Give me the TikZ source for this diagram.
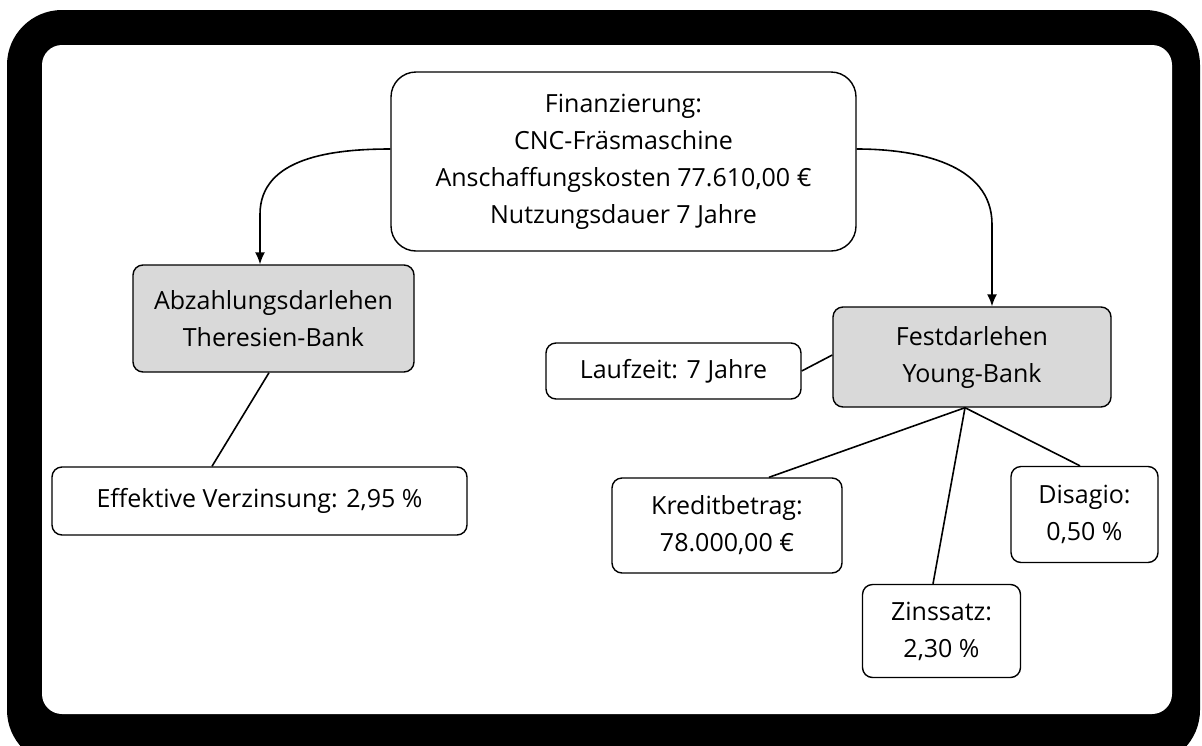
\documentclass[tikz,border=0pt]{standalone}
\usepackage{fontspec}
\setmainfont{Open Sans}
\usepackage{tikz}
\usetikzlibrary{arrows.meta}
\definecolor{box-gray}{RGB}{217,217,217}
\tikzstyle{bgframe}=[fill=black, rounded corners=55pt]
\tikzstyle{bgpanel}=[fill=white, rounded corners=20pt]
\tikzstyle{infobox}=[draw, line width=1.4pt, rounded corners=10pt, align=center, inner sep=0pt, font=\fontsize{25}{37}\selectfont]
\tikzstyle{grayed}=[fill=box-gray]
\tikzstyle{link}=[line width=1.6pt]
\tikzstyle{pointer}=[line width=1.6pt, -{Latex[length=12pt,width=10pt]}]

\begin{document}
\begin{tikzpicture}[x=1pt, y=-1pt]
	\useasboundingbox (0,0) rectangle (1202,745);
	\begin{scope}
		\clip (0,0) rectangle (1202,745);
		\fill[white] (0,0) rectangle (1202,745);
		\fill[bgframe] (7,10) rectangle (1200,765);
		\fill[bgpanel] (42,45) rectangle (1172,714);
	\end{scope}
	% main box
	\node[infobox, rounded corners=25pt, minimum width=465pt, minimum height=179pt] (fin) at (623.5,161.5) {Finanzierung:\\CNC-Fräsmaschine\\Anschaffungskosten 77.610,00 €\\Nutzungsdauer 7 Jahre};
	% the two loans
	\node[infobox, grayed, minimum width=281pt, minimum height=107pt] (abz) at (273.5,318.5) {Abzahlungsdarlehen\\Theresien-Bank};
	\node[infobox, grayed, minimum width=278pt, minimum height=100pt] (fest) at (972,357) {Festdarlehen\\Young-Bank};
	% details
	\node[infobox, minimum width=415pt, minimum height=68pt] (eff) at (259.5,501) {Effektive Verzinsung: 2,95 \%};
	\node[infobox, minimum width=255pt, minimum height=56pt] (lauf) at (673.5,371) {Laufzeit: 7 Jahre};
	\node[infobox, minimum width=230pt, minimum height=95pt] (kredit) at (727,525.5) {Kreditbetrag:\\78.000,00 €};
	\node[infobox, minimum width=158pt, minimum height=93pt] (zins) at (941.5,631) {Zinssatz:\\2,30 \%};
	\node[infobox, minimum width=147pt, minimum height=96pt] (disagio) at (1084.5,514.5) {Disagio:\\0,50 \%};
	% connectors
	\draw[pointer] ([yshift=12.5pt]fin.west) to[out=180,in=90] ([xshift=-13.5pt,yshift=50pt]abz.north) -- ([xshift=-13.5pt]abz.north);
	\draw[pointer] ([yshift=12.5pt]fin.east) to[out=0,in=90] ([xshift=20pt,yshift=82pt]fest.north) -- ([xshift=20pt]fest.north);
	\draw[link] ([xshift=-4.5pt]abz.south) -- ([xshift=-47.5pt]eff.north);
	\draw[link] (lauf.east) -- ([yshift=2pt]fest.west);
	\coordinate (fork) at ([xshift=-7pt]fest.south);
	\draw[link] (fork) -- ([xshift=42pt]kredit.north);
	\draw[link] (fork) -- ([xshift=-8.5pt]zins.north);
	\draw[link] (fork) -- ([xshift=-4.5pt]disagio.north);
\end{tikzpicture}
\end{document}
